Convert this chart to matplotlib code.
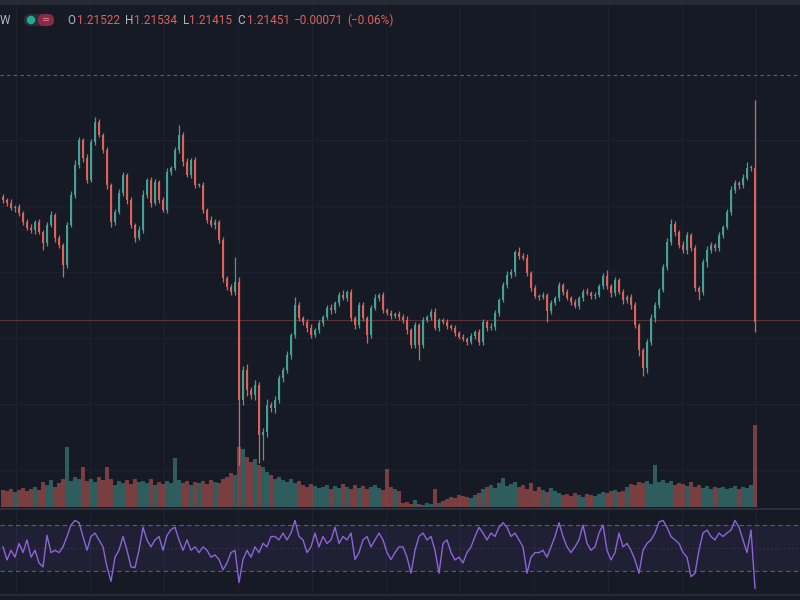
import matplotlib
matplotlib.use('Agg')
import numpy as np
import matplotlib.pyplot as plt
from matplotlib.patches import FancyBboxPatch, Circle, Rectangle

# price levels (arbitrary chart units, higher = higher price), one per candle
first_open = 303
closes = [300, 297, 292, 293, 287, 278, 272, 270, 278, 268,
          257, 275, 285, 262, 255, 235, 275, 305, 335, 360,
          342, 320, 358, 378, 365, 350, 315, 278, 288, 307,
          325, 300, 275, 262, 270, 305, 320, 297, 318, 300,
          290, 328, 332, 350, 365, 338, 325, 340, 315, 315,
          290, 280, 275, 278, 260, 222, 213, 208, 218, 100,
          130, 110, 105, 115, 65, 68, 95, 92, 100, 122,
          130, 145, 165, 195, 182, 178, 172, 165, 170, 177,
          183, 192, 190, 197, 205, 202, 208, 182, 175, 195,
          182, 165, 192, 202, 205, 190, 187, 184, 186, 183,
          180, 170, 155, 175, 155, 180, 183, 188, 172, 180,
          178, 174, 172, 167, 163, 161, 158, 164, 168, 158,
          178, 172, 173, 187, 200, 215, 225, 228, 248, 244,
          242, 227, 212, 204, 203, 205, 189, 197, 202, 215,
          208, 202, 198, 194, 202, 208, 207, 204, 205, 214,
          224, 214, 207, 220, 208, 200, 203, 195, 175, 150,
          132, 158, 182, 195, 210, 233, 258, 276, 268, 255,
          250, 265, 252, 212, 208, 238, 250, 255, 252, 265,
          273, 288, 310, 317, 315, 322, 332, 332, 178]

# how far each wick reaches past the body
wick_hi = [3, 2, 4, 2, 3, 2, 3, 4, 2, 3,
           2, 3, 4, 2, 3, 2, 3, 4, 5, 3,
           2, 4, 3, 5, 3, 2, 3, 2, 3, 4,
           3, 2, 3, 2, 4, 5, 2, 3, 3, 2,
           3, 4, 2, 3, 10, 3, 4, 2, 3, 2,
           3, 2, 4, 3, 2, 3, 2, 3, 25, 5,
           4, 6, 3, 5, 3, 4, 6, 3, 4, 3,
           3, 4, 2, 8, 3, 2, 3, 4, 2, 3,
           2, 3, 4, 2, 3, 5, 2, 3, 2, 3,
           3, 2, 3, 4, 2, 3, 2, 3, 2, 3,
           3, 4, 2, 3, 2, 3, 2, 3, 4, 2,
           2, 3, 2, 3, 2, 3, 2, 3, 2, 3,
           3, 2, 4, 3, 2, 3, 4, 3, 2, 5,
           3, 4, 2, 3, 2, 3, 2, 3, 2, 3,
           2, 3, 2, 3, 2, 3, 4, 2, 3, 2,
           3, 6, 2, 3, 2, 3, 2, 3, 3, 2,
           2, 3, 4, 3, 2, 3, 4, 5, 3, 2,
           4, 3, 2, 3, 2, 3, 4, 3, 2, 3,
           2, 3, 4, 3, 2, 4, 6, 3, 68]
wick_lo = [3, 3, 2, 4, 3, 3, 2, 3, 4, 2,
           7, 3, 2, 4, 3, 12, 3, 2, 3, 3,
           4, 3, 2, 3, 2, 3, 4, 5, 3, 2,
           3, 4, 3, 4, 2, 3, 3, 4, 2, 3,
           2, 3, 3, 2, 3, 4, 2, 3, 3, 2,
           3, 3, 2, 4, 3, 4, 3, 3, 3, 65,
           5, 6, 4, 5, 28, 25, 5, 4, 5, 3,
           4, 3, 4, 3, 3, 3, 4, 3, 2, 3,
           3, 2, 4, 3, 3, 2, 3, 3, 4, 3,
           3, 8, 3, 2, 3, 3, 2, 3, 2, 3,
           3, 4, 3, 3, 15, 3, 2, 3, 2, 3,
           2, 3, 2, 3, 2, 2, 3, 2, 3, 3,
           3, 3, 2, 3, 3, 2, 3, 3, 4, 3,
           2, 3, 3, 2, 3, 2, 11, 3, 2, 3,
           3, 2, 3, 2, 3, 3, 2, 3, 3, 2,
           3, 3, 4, 3, 2, 4, 3, 4, 3, 6,
           8, 5, 3, 4, 3, 2, 3, 3, 4, 3,
           3, 4, 3, 3, 8, 3, 5, 3, 3, 3,
           3, 2, 3, 3, 4, 3, 2, 3, 10]

volumes = [17, 16, 18, 15, 17, 19, 16, 18, 20, 17,
           25, 22, 27, 20, 24, 28, 60, 26, 30, 28,
           40, 26, 28, 25, 30, 27, 40, 28, 22, 26,
           24, 27, 23, 28, 25, 26, 24, 28, 22, 25,
           23, 26, 24, 49, 27, 24, 26, 22, 25, 24,
           26, 23, 27, 25, 24, 28, 30, 34, 32, 60,
           58, 50, 45, 48, 42, 40, 35, 32, 28, 30,
           27, 25, 28, 24, 26, 22, 20, 23, 21, 19,
           20, 22, 18, 21, 19, 23, 20, 18, 22, 19,
           21, 18, 20, 22, 19, 17, 38, 20, 18, 16,
           4, 5, 3, 7, 3, 2, 4, 3, 18, 4,
           6, 8, 10, 9, 12, 11, 10, 9, 12, 14,
           18, 20, 22, 19, 24, 29, 21, 23, 25, 20,
           22, 18, 24, 16, 20, 17, 15, 19, 16, 14,
           12, 13, 11, 14, 12, 10, 13, 12, 11, 13,
           15, 14, 16, 17, 15, 16, 20, 23, 22, 25,
           24, 26, 23, 42, 25, 27, 24, 26, 22, 24,
           23, 21, 25, 20, 22, 19, 21, 18, 20, 19,
           20, 18, 19, 21, 18, 20, 19, 22, 82]

rsi = [51, 39.6, 48, 42, 54, 46, 57, 42, 48, 37,
       33.5, 61, 46, 48, 46, 51, 60, 70, 74, 72,
       60, 48, 60, 63, 57, 51, 33.5, 21, 42, 48,
       60, 48, 33.5, 33, 48, 68, 57, 51, 57, 60,
       48, 61, 66, 68, 57, 48, 57, 48, 51, 46,
       51, 48, 42, 44, 40, 31, 37, 46, 48, 20,
       40, 48, 42, 51, 46, 54, 51, 60, 60, 57,
       63, 57, 63, 74, 60, 57, 46, 51, 63, 51,
       60, 54, 57, 68, 54, 60, 57, 63, 40, 46,
       57, 60, 51, 57, 63, 57, 46, 40, 46, 51,
       51, 42, 28, 48, 60, 63, 57, 60, 48, 28,
       54, 57, 46, 39.6, 42, 37, 46, 51, 60, 68,
       63, 57, 63, 60, 68, 72, 68, 60, 63, 57,
       51, 28, 42, 46, 46, 48, 42, 51, 60, 72,
       60, 51, 46, 51, 57, 70, 54, 48, 51, 63,
       70, 48, 39.6, 46, 63, 51, 54, 48, 39.6, 28,
       48, 54, 57, 63, 72.6, 74, 68, 60, 57, 54,
       46, 42, 25, 28, 48, 63, 65.6, 60, 57, 63,
       60, 63, 65.6, 74, 68, 57, 46, 65.6, 15]

ohlc_labels = ['O', 'H', 'L', 'C']
ohlc_values = ['1.21522', '1.21534', '1.21415', '1.21451']
change_text = ['\u22120.00071', '(\u22120.06%)']

bg = '#161a25'
up_col = '#45a193'
dn_col = '#dc625c'
grid_col = '#1e2230'

c = np.array(closes, dtype=float)
o = np.r_[first_open, c[:-1]]
hi = np.maximum(o, c) + np.array(wick_hi)
lo = np.minimum(o, c) - np.array(wick_lo)
idx = np.arange(len(c))
cols = [up_col if cc >= oo else dn_col for oo, cc in zip(o, c)]

fig = plt.figure(figsize=(8, 6), dpi=100, facecolor=bg)
xlim = (-0.75, 199.25)
vgrid = np.arange(3.25, 199, 18.5)

# price pane
ax = fig.add_axes([0, 92 / 600, 1, 508 / 600])
ax.set_facecolor(bg)
ax.set_xlim(*xlim)
ax.set_ylim(-8, 500)
for y in [360, 294, 228, 162, 96, 30]:
    ax.axhline(y, color=grid_col, lw=0.8, zorder=0)
for xv in vgrid:
    ax.axvline(xv, color=grid_col, lw=0.8, zorder=0)
ax.axhline(425, color='#5f626d', lw=0.8, ls=(0, (3, 3)), zorder=1)
ax.axhline(180, color=dn_col, lw=0.8, alpha=0.35, zorder=1)
ax.vlines(idx, lo, hi, colors=cols, lw=0.9, zorder=3)
ax.bar(idx, np.maximum(np.abs(c - o), 0.8), bottom=np.minimum(o, c),
       width=0.65, color=cols, zorder=3, linewidth=0)
ax.axis('off')

# volume overlay at the bottom of the price pane
axv = fig.add_axes([0, 93 / 600, 1, 107 / 600])
axv.patch.set_alpha(0)
axv.set_xlim(*xlim)
axv.set_ylim(0, 107)
axv.bar(idx, volumes, width=0.9, color=cols, alpha=0.5, linewidth=0)
axv.axis('off')

# RSI pane
axr = fig.add_axes([0, 6 / 600, 1, 85 / 600])
axr.set_facecolor(bg)
axr.set_xlim(*xlim)
axr.set_ylim(10, 83.9)
for xv in vgrid:
    axr.axvline(xv, color=grid_col, lw=0.8, zorder=0)
axr.axhspan(30, 70, color='#7e57c2', alpha=0.1, lw=0)
axr.axhline(70, color='#787b86', lw=0.8, ls=(0, (4, 3)), alpha=0.7)
axr.axhline(30, color='#787b86', lw=0.8, ls=(0, (4, 3)), alpha=0.7)
axr.axhline(50, color='#787b86', lw=0.6, ls=(0, (2, 3)), alpha=0.3)
axr.plot(idx, rsi, color='#8e63d8', lw=1.0)
axr.axis('off')

# overlay in pixel units for separators and the header
ov = fig.add_axes([0, 0, 1, 1], zorder=10)
ov.set_xlim(0, 800)
ov.set_ylim(600, 0)
ov.patch.set_alpha(0)
ov.axis('off')
ov.add_patch(Rectangle((0, 0), 800, 5, color='#262a35', lw=0))
ov.plot([0, 800], [508.5, 508.5], color='#2a2e39', lw=1.5)
ov.plot([0, 800], [594.5, 594.5], color='#2a2e39', lw=1.2)

ov.text(0, 20, 'W', color='#b2b5be', fontsize=8.5, family='Roboto',
        ha='left', va='center')
ov.add_patch(FancyBboxPatch((24, 14), 30, 12, boxstyle='round,pad=0,rounding_size=6',
                            fc='#2a2e39', ec='none'))
ov.add_patch(FancyBboxPatch((38, 14), 16, 12, boxstyle='round,pad=0,rounding_size=6',
                            fc='#8a2a45', ec='none'))
ov.add_patch(Circle((31, 20), 3.5, color='#22ab94'))
ov.text(46, 20, '=', color='#e08aa0', fontsize=7, ha='center', va='center')

lab_x = [67, 125, 183, 237]
val_x = [77, 134, 189, 247]
for lab, val, lx, vx in zip(ohlc_labels, ohlc_values, lab_x, val_x):
    ov.text(lx, 20, lab, color='#b2b5be', fontsize=8.5, family='Roboto',
            ha='left', va='center')
    ov.text(vx, 20, val, color=dn_col, fontsize=8.5, family='Roboto',
            ha='left', va='center')
ov.text(293, 20, change_text[0], color=dn_col, fontsize=8.5, family='Roboto',
        ha='left', va='center')
ov.text(347, 20, change_text[1], color=dn_col, fontsize=8.5, family='Roboto',
        ha='left', va='center')

fig.savefig('out.png', dpi=100, facecolor=bg)
